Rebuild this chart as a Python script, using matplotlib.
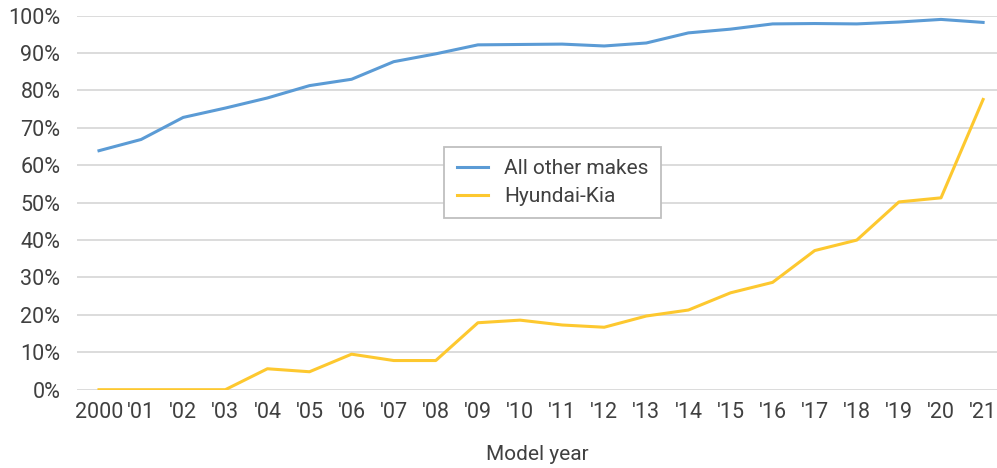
import matplotlib
matplotlib.use("Agg")
import matplotlib.pyplot as plt
from matplotlib import font_manager

# pick a condensed face if we have one
names = {f.name for f in font_manager.fontManager.ttflist}
family = "Liberation Sans Narrow" if "Liberation Sans Narrow" in names else "Roboto"
plt.rcParams["font.family"] = [family, "DejaVu Sans"]

years = ["2000", "'01", "'02", "'03", "'04", "'05", "'06", "'07", "'08", "'09", "'10",
         "'11", "'12", "'13", "'14", "'15", "'16", "'17", "'18", "'19", "'20", "'21"]
other_makes = [63.9, 66.9, 72.8, 75.3, 78.0, 81.3, 83.0, 87.7, 89.8, 92.2, 92.3,
               92.4, 91.9, 92.7, 95.4, 96.4, 97.8, 97.9, 97.8, 98.3, 99.0, 98.2]
hyundai_kia = [0, 0, 0, 0, 5.6, 4.8, 9.5, 7.8, 7.8, 17.9, 18.6,
               17.3, 16.7, 19.7, 21.3, 25.9, 28.7, 37.2, 40.0, 50.2, 51.3, 77.6]
yticks = list(range(0, 101, 10))

fig = plt.figure(figsize=(9.97, 4.68), dpi=100)
ax = fig.add_axes([0.0772, 0.1673, 0.9228, 0.7992])

x = list(range(len(years)))
ax.plot(x, other_makes, color="#5b9bd5", lw=2.2, label="All other makes", zorder=3)
ax.plot(x, hyundai_kia, color="#fdc82f", lw=2.2, label="Hyundai-Kia", zorder=3)

ax.set_xlim(-0.523, 21.33)
ax.set_ylim(0, 100)
ax.set_yticks(yticks)
ax.set_yticklabels([f"{v}%" for v in yticks])
ax.set_xticks(x)
ax.set_xticklabels(years)
ax.grid(axis="y", color="#d9d9d9", lw=1.3)
ax.set_axisbelow(True)
for s in ax.spines.values():
    s.set_visible(False)
ax.tick_params(length=0, labelsize=15.5, colors="#404040", pad=9)
ax.tick_params(axis="y", pad=12)
ax.set_xlabel("Model year", fontsize=15, color="#404040", labelpad=16)

leg = ax.legend(loc="upper left", bbox_to_anchor=(0.399, 0.649), fontsize=15,
                frameon=True, fancybox=False, edgecolor="#bfbfbf", framealpha=1,
                borderaxespad=0, handlelength=1.5, handletextpad=0.8,
                borderpad=0.6, labelspacing=0.4)
leg.get_frame().set_linewidth(1.3)
for t in leg.get_texts():
    t.set_color("#404040")

fig.savefig("out.png", dpi=100)
